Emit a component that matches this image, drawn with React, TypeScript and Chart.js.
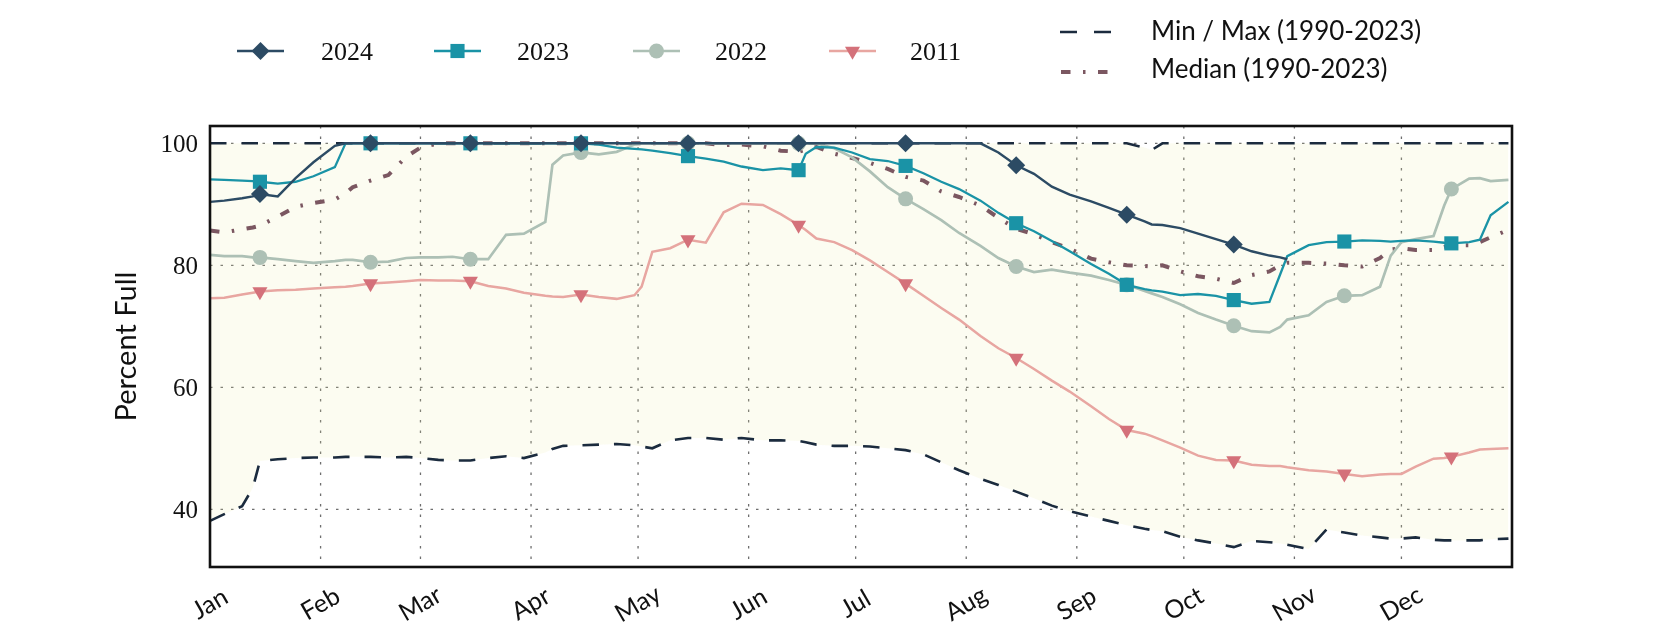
import React, { useEffect, useRef } from 'react';
import { Chart, registerables } from 'chart.js';

Chart.register(...registerables);

// ---- data (day of year, 0 = Jan 1) ----
const days = [0, 4, 9, 12, 14, 19, 24, 29, 35, 38, 40, 45, 50, 55, 59, 64, 68, 73, 78, 83, 88, 94, 96, 99, 104, 109, 114, 119, 121, 124, 129, 134, 139, 144, 149, 155, 160, 165, 167, 170, 175, 180, 185, 190, 195, 200, 205, 210, 216, 221, 226, 231, 236, 241, 247, 252, 257, 262, 264, 267, 272, 277, 282, 287, 292, 297, 300, 302, 308, 313, 318, 323, 328, 331, 334, 338, 343, 346, 348, 353, 356, 359, 364];

const monthStarts = [0, 31, 59, 90, 120, 151, 181, 212, 243, 273, 304, 334];
const monthLabels = ['Jan', 'Feb', 'Mar', 'Apr', 'May', 'Jun', 'Jul', 'Aug', 'Sep', 'Oct', 'Nov', 'Dec'];
const yTickValues = [40, 60, 80, 100];
const markerDays = [14, 45, 73, 104, 134, 165, 195, 226, 257, 287, 318, 348];

const pct2024 = [90.4, 90.6, 91.0, 91.3, 91.7, 91.3, 94.3, 96.9, 99.6, 100, 100, 100,
  100, 100, 100, 100, 100, 100, 100, 100, 100, 100, 100, 100, 100, 100, 100, 100, 100, 100, 100, 100, 100, 100, 100, 100, 100, 100, 100, 100, 100, 100, 100, 100, 100, 100, 100, 100, 100,
  98.5, 96.4, 95.0, 92.9, 91.6, 90.5, 89.4, 88.3, 87.2, 86.7, 86.6, 86.1, 85.2, 84.3, 83.4, 82.3, 81.6, 81.3, 81.0,
  null, null, null, null, null, null, null, null, null, null, null, null, null, null, null];

const pct2023 = [94.1, 94.0, 93.9, 93.8, 93.7, 93.4, 93.7, 94.6, 96.1, 100,
  100, 100, 100, 100, 100, 100, 100, 100, 100, 100, 100, 100, 100, 100, 100,
  99.8, 99.3, 99.1, 99.0, 98.8, 98.4, 97.9, 97.5, 97.0, 96.2, 95.6, 95.9, 95.6, 98.3, 99.4, 99.3, 98.5, 97.4, 97.1, 96.3, 95.1, 93.7, 92.5, 90.6, 88.6, 86.9, 85.6, 84.0, 82.3, 80.2, 78.6, 76.8, 76.1, 75.9, 75.7, 75.1, 75.3, 75.0, 74.3, 73.7, 74.0, 78.5, 81.5, 83.3, 83.8, 83.9, 84.1, 84.0, 83.9, 84.0, 84.1, 83.9, 83.7, 83.6, 83.8, 84.2, 88.2, 90.4];

const pct2022 = [81.7, 81.5, 81.5, 81.3, 81.3, 81.0, 80.7, 80.4, 80.7, 80.9, 80.9, 80.5, 80.6, 81.2, 81.3, 81.3, 81.4, 81.0, 81.0, 85.0, 85.2, 87.1, 96.5, 98.0, 98.5, 98.2, 98.6, 99.8, 100, 100, 100, 100, 100, 100, 100, 100, 100, 100, 100, 100, 99.2, 97.7, 95.4, 92.8, 90.9, 89.2, 87.4, 85.3, 83.2, 81.2, 79.8, 78.9, 79.3, 78.8, 78.3, 77.6, 76.8, 75.8, 75.4, 74.8, 73.6, 72.2, 71.1, 70.1, 69.2, 69.0, 69.9, 71.1, 71.8, 74.0, 75.0, 75.1, 76.5, 81.6, 83.8, 84.3, 84.8, 89.8, 92.5, 94.2, 94.3, 93.8, 94.0];

const pct2011 = [74.6, 74.7, 75.2, 75.5, 75.7, 75.9, 76.0, 76.2, 76.4, 76.5, 76.6, 77.0, 77.2, 77.4, 77.6, 77.5, 77.5, 77.4, 76.6, 76.2, 75.5, 75.0, 74.9, 74.8, 75.2, 74.8, 74.5, 75.1, 76.5, 82.2, 82.8, 84.2, 83.7, 88.7, 90.1, 89.9, 88.4, 86.6, 85.8, 84.4, 83.8, 82.5, 80.8, 78.9, 77.0, 75.0, 73.0, 71.1, 68.4, 66.4, 64.8, 63.0, 61.1, 59.3, 56.9, 54.8, 53.0, 52.4, 52.0, 51.3, 50.1, 48.8, 48.1, 48.0, 47.3, 47.1, 47.1, 46.9, 46.4, 46.2, 45.8, 45.4, 45.7, 45.8, 45.8, 47.0, 48.3, 48.4, 48.6, 49.3, 49.8, 49.9, 50.0];

const pctMedian = [85.7, 85.4, 85.9, 86.2, 86.5, 88.0, 89.6, 90.2, 90.8, 91.8, 92.8, 93.9, 94.8, 97.8, 99.3, 100, 100, 100, 100, 100, 100, 100, 100, 100, 100, 100, 100, 100, 100, 100, 100, 100, 100, 99.7, 99.8, 99.5, 98.8, 98.6, 99.0, 99.4, 98.3, 97.6, 96.8, 95.8, 94.5, 93.9, 92.1, 91.2, 89.8, 87.8, 86.0, 85.1, 83.8, 82.7, 81.1, 80.5, 80.0, 79.9, 79.8, 80.0, 79.0, 78.2, 77.8, 77.1, 78.4, 79.0, 80.0, 80.4, 80.4, 80.3, 80.0, 79.8, 81.2, 82.6, 82.8, 82.5, 82.5, 83.0, 83.3, 83.3, 83.8, 84.6, 85.8];

const pctMax = [100, 100, 100, 100, 100, 100, 100, 100, 100, 100, 100, 100, 100, 100, 100, 100, 100, 100, 100, 100, 100, 100, 100, 100, 100, 100, 100, 100, 100, 100, 100, 100, 100, 100, 100, 100, 100, 100, 100, 100, 100, 100, 100, 100, 100, 100, 100, 100, 100, 100, 100, 100, 100, 100, 100, 100, 100, 99.3, 98.9, 100, 100, 100, 100, 100, 100, 100, 100, 100, 100, 100, 100, 100, 100, 100, 100, 100, 100, 100, 100, 100, 100, 100, 100];

const pctMin = [38.1, 39.2, 40.5, 43.5, 47.9, 48.2, 48.4, 48.5, 48.5, 48.6, 48.6, 48.6, 48.5, 48.6, 48.4, 48.1, 48.0, 48.0, 48.4, 48.7, 48.4, 49.3, 49.9, 50.4, 50.5, 50.6, 50.7, 50.5, 50.3, 50.0, 51.3, 51.7, 51.7, 51.4, 51.7, 51.3, 51.3, 51.2, 51.0, 50.6, 50.4, 50.4, 50.3, 50.0, 49.7, 49.0, 47.7, 46.4, 45.0, 44.0, 42.9, 41.8, 40.6, 39.7, 38.8, 38.1, 37.4, 36.8, 36.6, 36.4, 35.5, 34.9, 34.4, 33.8, 34.8, 34.6, 34.4, 34.2, 33.5, 36.7, 36.2, 35.7, 35.4, 35.2, 35.2, 35.4, 35.0, 34.9, 34.9, 34.9, 34.9, 35.1, 35.2];

// ---- styling ----
const X_MIN = 0;
const X_MAX = 365;
const Y_MIN = 30.54;
const Y_MAX = 102.84;

const C2024 = '#2c4b64';
const C2023 = '#1a93a6';
const C2022 = '#adc0b5';
const C2011_LINE = '#e8a6a1';
const C2011_MARK = '#d4717a';
const CMED = '#7b5761';
const CMINMAX = '#1b2b3e';
const FILL = 'rgba(235,235,170,0.16)';
const GRID = '#6e6e6e';
const TEXT = '#111111';

const MINMAX_DASH = [17, 17];
const MED_DASH = [9.5, 12.5, 2.5, 12.5];

type MarkerStyle = 'rectRot' | 'rect' | 'circle' | 'triDown';

const LEGEND_LINE_LEN = 47;

const yearSeries = [
  { label: '2024', values: pct2024, line: C2024, mark: C2024, style: 'rectRot' as MarkerStyle, radius: 9, width: 2.4, legendX: 237, textX: 321 },
  { label: '2023', values: pct2023, line: C2023, mark: C2023, style: 'rect' as MarkerStyle, radius: 10, width: 2.3, legendX: 434, textX: 517 },
  { label: '2022', values: pct2022, line: C2022, mark: C2022, style: 'circle' as MarkerStyle, radius: 7.5, width: 2.7, legendX: 633, textX: 715 },
  { label: '2011', values: pct2011, line: C2011_LINE, mark: C2011_MARK, style: 'triDown' as MarkerStyle, radius: 8.7, width: 2.5, legendX: 829, textX: 910 },
];

function drawMarker(ctx: CanvasRenderingContext2D, style: MarkerStyle, x: number, y: number, r: number, color: string) {
  ctx.save();
  ctx.setLineDash([]);
  ctx.fillStyle = color;
  ctx.beginPath();
  if (style === 'rectRot') {
    ctx.moveTo(x - r, y); ctx.lineTo(x, y - r); ctx.lineTo(x + r, y); ctx.lineTo(x, y + r); ctx.closePath();
  } else if (style === 'rect') {
    const h = r * Math.SQRT1_2;
    ctx.rect(x - h, y - h, 2 * h, 2 * h);
  } else if (style === 'circle') {
    ctx.arc(x, y, r, 0, Math.PI * 2);
  } else {
    ctx.moveTo(x, y + r);
    ctx.lineTo(x - 0.866 * r, y - 0.5 * r);
    ctx.lineTo(x + 0.866 * r, y - 0.5 * r);
    ctx.closePath();
  }
  ctx.fill();
  ctx.restore();
}

const decorPlugin = {
  id: 'decor',
  beforeDatasetsDraw(chart: any) {
    const { ctx, chartArea: a, scales } = chart;
    const xs = scales.x;
    const ys = scales.y;
    ctx.save();
    ctx.strokeStyle = GRID;
    ctx.lineWidth = 1.3;
    ctx.setLineDash([2.5, 8]);
    monthStarts.forEach((d) => {
      if (d === X_MIN) return;
      const px = xs.getPixelForValue(d);
      ctx.beginPath(); ctx.moveTo(px, a.top); ctx.lineTo(px, a.bottom); ctx.stroke();
    });
    yTickValues.forEach((v) => {
      const py = ys.getPixelForValue(v);
      ctx.beginPath(); ctx.moveTo(a.left, py); ctx.lineTo(a.right, py); ctx.stroke();
    });
    ctx.restore();
  },
  afterDraw(chart: any) {
    const { ctx, chartArea: a, scales } = chart;
    const xs = scales.x;
    const ys = scales.y;
    ctx.save();
    // frame
    ctx.setLineDash([]);
    ctx.strokeStyle = '#111';
    ctx.lineWidth = 2.6;
    ctx.strokeRect(a.left, a.top, a.right - a.left, a.bottom - a.top);

    ctx.fillStyle = TEXT;
    // y tick labels
    ctx.font = '25px "Liberation Serif"';
    ctx.textAlign = 'right';
    ctx.textBaseline = 'alphabetic';
    yTickValues.forEach((v) => {
      ctx.fillText(String(v), a.left - 12, ys.getPixelForValue(v) + 8.5);
    });
    // x tick labels (rotated, centred on tick)
    ctx.font = '25px Lato';
    ctx.textAlign = 'center';
    ctx.textBaseline = 'middle';
    monthStarts.forEach((d, i) => {
      ctx.save();
      ctx.translate(xs.getPixelForValue(d), a.bottom + 37);
      ctx.rotate(-Math.PI / 6);
      ctx.fillText(monthLabels[i], 0, 0);
      ctx.restore();
    });
    // y title
    ctx.save();
    ctx.font = '29px Lato';
    ctx.translate(127, (a.top + a.bottom) / 2);
    ctx.rotate(-Math.PI / 2);
    ctx.fillText('Percent Full', 0, 0);
    ctx.restore();

    // legend: years
    const rowY = 51;
    yearSeries.forEach((s) => {
      ctx.save();
      ctx.strokeStyle = s.line;
      ctx.lineWidth = s.width;
      ctx.setLineDash([]);
      ctx.beginPath(); ctx.moveTo(s.legendX, rowY); ctx.lineTo(s.legendX + LEGEND_LINE_LEN, rowY); ctx.stroke();
      drawMarker(ctx, s.style, s.legendX + LEGEND_LINE_LEN / 2, rowY, s.radius, s.mark);
      ctx.restore();
      ctx.font = '26px "Liberation Serif"';
      ctx.textAlign = 'left';
      ctx.textBaseline = 'alphabetic';
      ctx.fillText(s.label, s.textX, rowY + 9);
    });
    // legend: min/max and median
    ctx.save();
    ctx.lineCap = 'butt';
    ctx.strokeStyle = CMINMAX;
    ctx.lineWidth = 2.6;
    ctx.setLineDash(MINMAX_DASH);
    ctx.beginPath(); ctx.moveTo(1060, 32); ctx.lineTo(1113, 32); ctx.stroke();
    ctx.strokeStyle = CMED;
    ctx.lineWidth = 4;
    ctx.setLineDash(MED_DASH);
    ctx.beginPath(); ctx.moveTo(1061, 72); ctx.lineTo(1110, 72); ctx.stroke();
    ctx.restore();
    ctx.font = '26px Lato';
    ctx.textAlign = 'left';
    ctx.textBaseline = 'middle';
    ctx.fillText('Min / Max (1990-2023)', 1151, 32);
    ctx.fillText('Median (1990-2023)', 1151, 70);
    ctx.restore();
  },
};

function toPoints(values: (number | null)[]) {
  return days.map((d, i) => ({ x: d, y: values[i] }));
}

export default function App() {
  const ref = useRef<HTMLCanvasElement>(null);
  useEffect(() => {
    document.body.style.margin = '0';
    document.body.style.overflow = 'hidden';
    const canvas = ref.current!;
    const yearDatasets = yearSeries.map((s) => ({
      label: s.label,
      data: toPoints(s.values),
      borderColor: s.line,
      borderWidth: s.width,
      backgroundColor: s.mark,
      pointBackgroundColor: s.mark,
      pointBorderColor: s.mark,
      pointBorderWidth: 0,
      pointStyle: s.style === 'triDown' ? 'triangle' : s.style,
      pointRotation: s.style === 'triDown' ? 180 : 0,
      pointRadius: (c: any) => (markerDays.includes(days[c.dataIndex]) && s.values[c.dataIndex] != null ? s.radius : 0),
      pointHoverRadius: 0,
      fill: false,
      tension: 0,
      spanGaps: false,
    }));
    const chart = new Chart(canvas, {
      type: 'line',
      data: {
        datasets: [
          ...yearDatasets,
          {
            label: 'Median (1990-2023)',
            data: toPoints(pctMedian),
            borderColor: CMED,
            borderWidth: 4,
            borderDash: MED_DASH,
            borderCapStyle: 'butt',
            pointRadius: 0,
            fill: false,
            tension: 0,
          },
          {
            label: 'Max (1990-2023)',
            data: toPoints(pctMax),
            borderColor: CMINMAX,
            borderWidth: 2.6,
            borderDash: [16.5, 15],
            borderCapStyle: 'butt',
            pointRadius: 0,
            fill: false,
            tension: 0,
          },
          {
            label: 'Min (1990-2023)',
            data: toPoints(pctMin),
            borderColor: CMINMAX,
            borderWidth: 2.6,
            borderDash: [16.5, 15],
            borderCapStyle: 'butt',
            pointRadius: 0,
            backgroundColor: FILL,
            fill: '-1',
            tension: 0,
          },
        ] as any,
      },
      options: {
        animation: false,
        responsive: false,
        devicePixelRatio: 1,
        events: [],
        layout: { padding: { left: 210, right: 168, top: 126, bottom: 63 } },
        plugins: { legend: { display: false }, tooltip: { enabled: false } },
        scales: {
          x: { type: 'linear', min: X_MIN, max: X_MAX, display: false },
          y: { type: 'linear', min: Y_MIN, max: Y_MAX, display: false },
        },
      },
      plugins: [decorPlugin],
    });
    return () => chart.destroy();
  }, []);
  return (
    <div style={{ width: 1680, height: 630 }}>
      <canvas ref={ref} width={1680} height={630} style={{ display: 'block', width: 1680, height: 630 }} />
    </div>
  );
}
